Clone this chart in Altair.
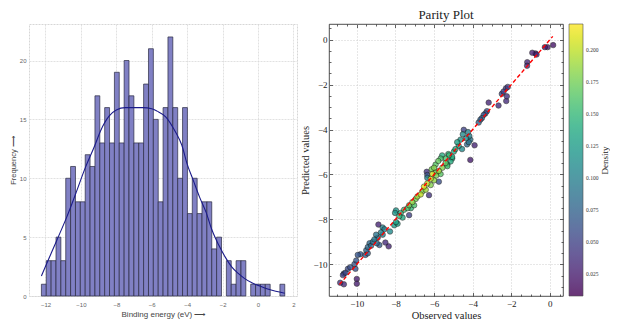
import altair as alt
import numpy as np
import pandas as pd

# ---------------- histogram (left) ----------------
hist_counts = [1, 3, 3, 5, 3, 10, 11, 8, 8, 12, 11, 17, 13, 16, 13, 19, 13, 20, 17, 13,
               13, 18, 21, 15, 8, 16, 22, 16, 10, 16, 7, 10, 7, 8, 8, 4, 5, 0, 3, 1,
               3, 3, 0, 1, 1, 1, 1, 0, 0, 1]
hist_first_edge = -12.23
hist_last_edge = 1.51

kde_energy = [-12.23, -11.8, -11.37, -10.8, -10.29, -9.75, -9.21, -8.9, -8.4, -8.0, -7.5,
              -7.0, -6.5, -6.0, -5.7, -5.2, -4.65, -4.3, -4.0, -3.65, -3.3, -2.93, -2.6,
              -2.21, -1.85, -1.5, -1.1, -0.77, -0.32, 0.1, 0.5, 1.0, 1.51]
kde_freq = [1.7, 3.2, 4.7, 6.7, 8.7, 10.9, 12.8, 14.0, 15.3, 15.8, 16.0, 16.0, 16.0, 15.9,
            15.7, 15.2, 13.9, 12.8, 11.2, 9.8, 8.4, 7.1, 5.6, 4.3, 3.3, 2.5, 1.9, 1.5, 1.1,
            0.85, 0.62, 0.4, 0.24]

# ---------------- parity plot (right) ----------------
observed = [0.17, -0.12, -0.26, -0.69, -0.74, -0.91, -1.17, -1.18, -2.18, -2.28, -2.40, -2.49,
            -2.23, -2.26, -3.17, -2.66, -3.26, -3.34, -3.43, -3.52, -3.60, -3.69,
            -4.46, -4.24, -4.51, -4.17, -4.34, -4.63, -4.80, -4.12, -4.20, -4.72, -4.89, -4.55,
            -4.97, -4.29, -3.90, -5.23, -5.06, -5.14, -4.12,
            -5.40, -5.26, -5.31, -5.58, -5.66, -5.78, -5.92, -6.00, -6.12, -5.06,
            -5.40, -5.31, -5.57, -5.75, -5.92, -6.09, -5.89, -5.66, -6.17, -6.00, -6.35, -6.17,
            -6.52, -6.43, -6.60, -6.69, -6.86, -6.95, -7.12, -7.03, -7.29, -7.37, -7.20, -7.55,
            -7.72, -7.80, -7.63, -7.29, -7.97, -8.02, -7.97, -8.06, -7.89, -6.26, -5.75, -6.38,
            -6.35, -6.35,
            -8.28, -8.57, -8.66, -8.75, -8.66, -8.88, -8.92, -9.00, -9.09, -9.17, -8.97, -8.83,
            -8.52, -8.35, -9.34, -9.43, -9.26, -9.51, -9.43, -9.55, -9.81, -9.95, -10.03,
            -10.12, -10.07, -10.34, -10.46, -10.58, -10.72, -10.67, -10.86, -10.67, -10.00,
            -10.00]
predicted = [-0.24, -0.33, -0.33, -0.66, -0.61, -0.58, -1.00, -1.16, -2.10, -2.17, -2.31, -2.41,
             -2.52, -2.73, -2.80, -2.93, -3.18, -3.28, -3.35, -3.49, -3.56, -3.69,
             -4.01, -4.11, -4.21, -4.29, -4.39, -4.45, -4.56, -4.45, -4.56, -4.73, -4.87, -4.87,
             -4.98, -4.66, -4.70, -5.15, -5.29, -5.42, -5.35,
             -5.29, -5.09, -5.56, -5.15, -5.29, -5.40, -5.56, -5.70, -5.77, -5.22,
             -5.49, -5.63, -5.70, -5.84, -5.91, -5.98, -6.05, -5.98, -6.19, -6.26, -6.40, -6.47,
             -6.54, -6.68, -6.75, -6.89, -6.98, -7.09, -7.23, -7.37, -7.37, -7.50, -7.50, -7.57,
             -7.71, -7.85, -7.92, -7.81, -7.60, -7.71, -8.12, -8.26, -8.19, -6.92, -6.32, -5.88,
             -6.02, -6.15,
             -8.54, -8.44, -8.36, -8.58, -8.68, -8.23, -8.82, -8.68, -8.89, -9.00, -9.06, -9.14,
             -9.03, -9.20, -9.06, -9.23, -9.17, -9.37, -9.51, -9.58, -9.55, -9.58, -9.83,
             -9.99, -10.20, -10.13, -10.20, -10.37, -10.48, -10.41, -10.82, -10.89, -10.65,
             -10.86]
density = [0.020, 0.022, 0.022, 0.028, 0.028, 0.028, 0.032, 0.032, 0.045, 0.045, 0.050, 0.050,
           0.038, 0.035, 0.030, 0.035, 0.060, 0.062, 0.065, 0.070, 0.072, 0.075,
           0.050, 0.100, 0.110, 0.100, 0.110, 0.120, 0.130, 0.090, 0.090, 0.130, 0.140, 0.110,
           0.140, 0.080, 0.030, 0.150, 0.140, 0.140, 0.025,
           0.160, 0.150, 0.140, 0.140, 0.160, 0.170, 0.165, 0.180, 0.175, 0.140,
           0.170, 0.160, 0.180, 0.190, 0.175, 0.205, 0.180, 0.165, 0.200, 0.185, 0.200, 0.180,
           0.210, 0.190, 0.180, 0.200, 0.190, 0.175, 0.185, 0.160, 0.175, 0.160, 0.150, 0.155,
           0.145, 0.150, 0.135, 0.050, 0.120, 0.120, 0.130, 0.125, 0.130, 0.040, 0.060, 0.040,
           0.060, 0.100,
           0.110, 0.100, 0.100, 0.100, 0.100, 0.030, 0.090, 0.090, 0.090, 0.085, 0.080, 0.070,
           0.035, 0.030, 0.080, 0.080, 0.080, 0.075, 0.070, 0.070, 0.065, 0.065, 0.065,
           0.065, 0.060, 0.060, 0.055, 0.055, 0.050, 0.050, 0.040, 0.035, 0.025,
           0.025]
parity_line = [-10.9, 0.15]
density_ticks = [0.025, 0.05, 0.075, 0.1, 0.125, 0.15, 0.175, 0.2]
major_ticks = [-10, -8, -6, -4, -2, 0]
minor_ticks = [-11.0, -10.5, -9.5, -9.0, -8.5, -7.5, -7.0, -6.5, -5.5, -5.0, -4.5,
               -3.5, -3.0, -2.5, -1.5, -1.0, -0.5, 0.5]

# ---------------- tables ----------------
edges = np.linspace(hist_first_edge, hist_last_edge, len(hist_counts) + 1)
hist_df = pd.DataFrame({"lo": edges[:-1], "hi": edges[1:], "count": hist_counts})
hist_df = hist_df[hist_df["count"] > 0]
kde_df = pd.DataFrame({"e": kde_energy, "f": kde_freq})
pdf = pd.DataFrame({"obs": observed, "pred": predicted, "dens": density}).sort_values("dens")
line_df = pd.DataFrame({"lx": parity_line, "ly": parity_line})

SANS = "Liberation Sans Narrow, Liberation Sans, sans-serif"
SERIF = "Liberation Serif, DejaVu Serif, serif"

H = 272

# ---------------- left chart ----------------
xl_scale = alt.Scale(domain=[-12.93, 2.2], nice=False, zero=False)
yl_scale = alt.Scale(domain=[0, 23.1], nice=False)
xl_axis = alt.Axis(values=[-12, -10, -8, -6, -4, -2, 0, 2], title="Binding energy (eV) ⟶",
                   labelFont=SANS, labelFontSize=6, labelColor="#666", titleFont=SANS,
                   titleFontSize=8, titleColor="#444", titleFontWeight="normal", tickSize=0,
                   domain=False, labelPadding=5, titlePadding=3, gridColor="#d9d9d9",
                   gridDash=[2, 1], gridWidth=0.8)
yl_axis = alt.Axis(values=[0, 5, 10, 15, 20], title="Frequency ⟶",
                   labelFont=SANS, labelFontSize=6, labelColor="#666", titleFont=SANS,
                   titleFontSize=7.5, titleColor="#444", titleFontWeight="normal", tickSize=0,
                   domain=False, labelPadding=3, titlePadding=2, gridColor="#d9d9d9",
                   gridDash=[2, 1], gridWidth=0.8)

bars = alt.Chart(hist_df).mark_rect(fill="#8080c4", stroke="#2a2a40", strokeWidth=0.7).encode(
    x=alt.X("lo:Q", scale=xl_scale, axis=xl_axis),
    x2="hi:Q",
    y=alt.Y("count:Q", scale=yl_scale, axis=yl_axis),
    y2=alt.Y2(datum=0),
)
kde = alt.Chart(kde_df).mark_line(color="#1b1b8a", strokeWidth=1.1, interpolate="monotone").encode(
    x=alt.X("e:Q", scale=xl_scale, axis=xl_axis),
    y=alt.Y("f:Q", scale=yl_scale, axis=yl_axis),
)
left = alt.layer(bars, kde).properties(
    width=268, height=H,
    title=alt.TitleParams(" ", font=SERIF, fontSize=13, offset=2),
    view=alt.ViewBackground(stroke="#d6d6d6", strokeDash=[2, 1]),
)

# ---------------- right chart ----------------
xr_scale = alt.Scale(domain=[-11.44, 0.68], nice=False, zero=False)
yr_scale = alt.Scale(domain=[-11.41, 0.70], nice=False, zero=False)


def frame_axis(orient, values, size, **kw):
    """Inward tick marks on one side of the frame (no labels)."""
    return alt.Axis(orient=orient, values=values, labels=False, tickSize=size,
                    tickColor="#222", tickWidth=0.7, offset=-size, domain=False,
                    grid=False, title=None, **kw)


xr_axis = alt.Axis(values=major_ticks, title="Observed values",
                   labelFont=SERIF, labelFontSize=9, labelColor="#222", titleFont=SERIF,
                   titleFontSize=10.5, titleFontWeight="normal", titleColor="#222",
                   tickSize=3.5, tickColor="#222", tickWidth=0.7, offset=-3.5, domain=False,
                   labelPadding=3, titlePadding=2, gridColor="#cfcfcf", gridDash=[1, 2])
yr_axis = alt.Axis(values=major_ticks, title="Predicted values",
                   labelFont=SERIF, labelFontSize=9, labelColor="#222", titleFont=SERIF,
                   titleFontSize=10.5, titleFontWeight="normal", titleColor="#222",
                   tickSize=3.5, tickColor="#222", tickWidth=0.7, offset=-3.5, domain=False,
                   labelPadding=2, titlePadding=2, gridColor="#cfcfcf", gridDash=[1, 2])

pts = alt.Chart(pdf).mark_point(filled=True, size=30, stroke="#111", strokeWidth=0.6,
                                opacity=0.8).encode(
    x=alt.X("obs:Q", scale=xr_scale, axis=xr_axis),
    y=alt.Y("pred:Q", scale=yr_scale, axis=yr_axis),
    color=alt.Color("dens:Q", scale=alt.Scale(scheme="viridis", domain=[0.008, 0.22]),
                    legend=alt.Legend(orient="none", legendX=240, legendY=0,
                                      direction="vertical", gradientLength=H,
                                      gradientThickness=14, title=None,
                                      values=density_ticks, format=".3f",
                                      labelFont=SERIF, labelFontSize=5.5,
                                      labelColor="#333", labelOffset=3,
                                      gradientOpacity=0.8, gradientStrokeColor="#222",
                                      gradientStrokeWidth=0.6, padding=0)),
)
line = alt.Chart(line_df).mark_line(color="red", strokeDash=[4, 2.5], strokeWidth=1.4).encode(
    x=alt.X("lx:Q", scale=xr_scale, axis=frame_axis("top", major_ticks, 3.5)),
    y=alt.Y("ly:Q", scale=yr_scale,
            axis=frame_axis("right", major_ticks, 3.5).to_dict() | {
                "title": "Density", "titleAngle": 270, "titleX": 50,
                "titleFont": SERIF, "titleFontSize": 9, "titleFontWeight": "normal",
                "titleColor": "#222"}),
)
minor_bl = alt.Chart(line_df).mark_line(opacity=0).encode(
    x=alt.X("lx:Q", scale=xr_scale, axis=frame_axis("bottom", minor_ticks, 2)),
    y=alt.Y("ly:Q", scale=yr_scale, axis=frame_axis("left", minor_ticks, 2)),
)
minor_tr = alt.Chart(line_df).mark_line(opacity=0).encode(
    x=alt.X("lx:Q", scale=xr_scale, axis=frame_axis("top", minor_ticks, 2)),
    y=alt.Y("ly:Q", scale=yr_scale, axis=frame_axis("right", minor_ticks, 2)),
)
right = alt.layer(pts, line, minor_bl, minor_tr).resolve_scale(
    x="independent", y="independent"
).properties(
    width=234, height=H,
    title=alt.TitleParams("Parity Plot", font=SERIF, fontSize=13, fontWeight="normal",
                          offset=2, color="#222"),
    view=alt.ViewBackground(stroke="#222", strokeWidth=0.8),
)

chart = alt.hconcat(left, right, spacing=2).resolve_legend(color="independent").properties(
    padding={"left": 0, "top": 0, "right": 0, "bottom": 0}
).configure(background="white")

chart.save("out.html", embed_options={"renderer": "svg", "actions": False})
